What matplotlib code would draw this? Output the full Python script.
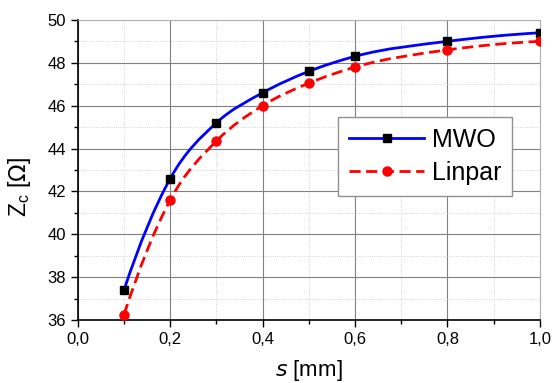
import numpy as np
import matplotlib.pyplot as plt
from matplotlib.path import Path
from matplotlib.patches import PathPatch
from matplotlib.lines import Line2D
from matplotlib.ticker import MultipleLocator, FormatStrFormatter

plt.rcParams['font.family'] = ['Liberation Sans', 'DejaVu Sans']

s = np.array([0.1, 0.2, 0.3, 0.4, 0.5, 0.6, 0.8, 1.0])
mwo = np.array([37.4, 42.6, 45.2, 46.6, 47.6, 48.3, 49.0, 49.4])
linpar = np.array([36.25, 41.6, 44.35, 46.0, 47.05, 47.8, 48.6, 49.0])


def smooth_path(x, y):
  # cubic Hermite through the points, drawn as bezier segments
  m = np.gradient(y, x, edge_order=2)
  verts = [(x[0], y[0])]
  codes = [Path.MOVETO]
  for i in range(len(x) - 1):
    h = x[i+1] - x[i]
    verts += [(x[i] + h/3, y[i] + m[i]*h/3),
              (x[i+1] - h/3, y[i+1] - m[i+1]*h/3),
              (x[i+1], y[i+1])]
    codes += [Path.CURVE4] * 3
  return Path(verts, codes)


fig = plt.figure(figsize=(5.52, 3.83), dpi=100)
ax = fig.add_axes([0.141, 0.1645, 0.837, 0.7835])

ax.add_patch(PathPatch(smooth_path(s, mwo), fill=False, edgecolor='#0000ff', lw=2, zorder=3))
ax.add_patch(PathPatch(smooth_path(s, linpar), fill=False, edgecolor='#ff0000', lw=2,
                       linestyle=(0, (4, 2)), zorder=3))
ax.plot(s, mwo, 's', color='black', ms=6, zorder=4)
ax.plot(s, linpar, 'o', color='#ff0000', ms=6.5, zorder=4)

ax.set_xlim(0, 1.0)
ax.set_ylim(36, 50)
ax.xaxis.set_major_locator(MultipleLocator(0.2))
ax.xaxis.set_minor_locator(MultipleLocator(0.1))
ax.yaxis.set_major_locator(MultipleLocator(2))
ax.yaxis.set_minor_locator(MultipleLocator(1))
ax.xaxis.set_major_formatter(lambda v, p: f"{v:.1f}".replace('.', ','))
ax.yaxis.set_major_formatter(FormatStrFormatter('%d'))

ax.grid(which='major', color='#808080', lw=0.8)
ax.grid(which='minor', color='#c8c8c8', lw=0.6, ls=':')
ax.set_axisbelow(True)

ax.tick_params(which='both', direction='out', top=False, right=False, labelsize=12)
ax.tick_params(which='major', length=5, width=1)
ax.tick_params(which='minor', length=3, width=1)
for side in ['top', 'right']:
  ax.spines[side].set_color('#b0b0b0')
for side in ['left', 'bottom']:
  ax.spines[side].set_linewidth(1.2)

ax.set_xlabel(r'$s$ [mm]', fontsize=16)
ax.set_ylabel(r'Z$_\mathregular{c}$ [$\Omega$]', fontsize=16.5)
ax.xaxis.set_label_coords(0.5, -0.125)
ax.yaxis.set_label_coords(-0.098, 0.443)

handles = [Line2D([], [], color='#0000ff', lw=2, marker='s', mfc='black', mec='black', ms=6),
           Line2D([], [], color='#ff0000', lw=2, ls=(0, (4, 2)), marker='o', ms=6.5)]
leg = ax.legend(handles, ['MWO', 'Linpar'], loc='upper left', bbox_to_anchor=(0.563, 0.677),
                borderaxespad=0, fontsize=18, handlelength=3.0, handletextpad=0.3,
                fancybox=False, framealpha=1, edgecolor='#909090', borderpad=0.45,
                labelspacing=0.35)
leg.get_frame().set_linewidth(1)

fig.savefig('out.png', dpi=100)
